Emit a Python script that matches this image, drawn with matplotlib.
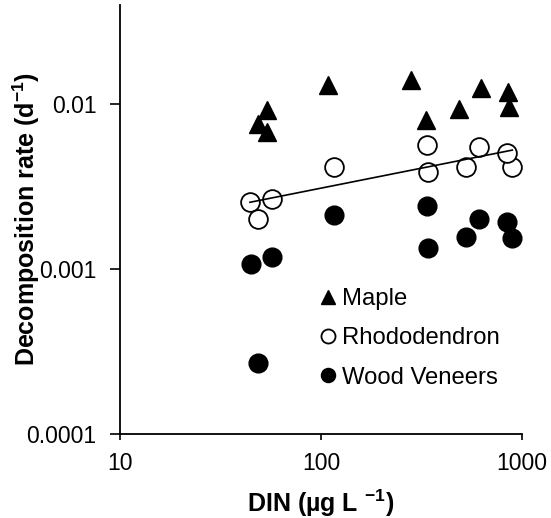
import matplotlib
matplotlib.use("Agg")
import matplotlib.pyplot as plt
import numpy as np

plt.rcParams['font.family'] = ['Liberation Sans', 'DejaVu Sans']
plt.rcParams['mathtext.fontset'] = 'custom'
plt.rcParams['mathtext.rm'] = 'Liberation Sans'
plt.rcParams['mathtext.bf'] = 'Liberation Sans:bold'
plt.rcParams['mathtext.default'] = 'bf'

# DIN (ug/L) and decomposition rates (1/d)
maple_din = [48.8, 53.7, 53.7, 108.7, 279, 333, 487, 623, 855, 865]
maple_k = [0.00764, 0.00929, 0.00679, 0.0130, 0.0141, 0.00808, 0.00933, 0.0126, 0.0118, 0.00963]

rhodo_din = [44.3, 56.8, 48.8, 116, 342, 525, 895, 336, 613, 840]
rhodo_k = [0.00256, 0.00268, 0.00201, 0.00417, 0.00389, 0.00417, 0.00417, 0.00564, 0.00547, 0.00507]

wood_din = [44.7, 56.8, 116, 336, 342, 611, 525, 840, 895, 48.8]
wood_k = [0.00108, 0.00118, 0.00212, 0.00241, 0.00134, 0.00201, 0.00156, 0.00193, 0.00154, 0.00027]

fig = plt.figure(figsize=(5.51, 5.18), dpi=100)
ax = fig.add_axes([120/551, 1-434/518, 402/551, 429/518])

ax.plot(maple_din, maple_k, ls='none', marker='^', ms=13.5, color='black', label='Maple')
ax.plot(rhodo_din, rhodo_k, ls='none', marker='o', ms=13.5, mfc='white', mec='black', mew=1.3, label='Rhododendron')
ax.plot(wood_din, wood_k, ls='none', marker='o', ms=13.5, color='black', label='Wood Veneers')

# power-law trend for rhododendron
b, a = np.polyfit(np.log10(rhodo_din), np.log10(rhodo_k), 1)
xs = np.array([min(rhodo_din), max(rhodo_din)])
ax.plot(xs, 10**a * xs**b, color='black', lw=1.2)

ax.set_xscale('log')
ax.set_yscale('log')
ax.set_xlim(10, 1000)
ax.set_ylim(0.0001, 0.04)
ax.set_xticks([10, 100, 1000])
ax.set_xticklabels(['10', '100', '1000'])
ax.set_yticks([0.0001, 0.001, 0.01])
ax.set_yticklabels(['0.0001', '0.001', '0.01'])
ax.minorticks_off()
ax.tick_params(axis='x', direction='out', length=4, width=1.2, labelsize=16.5, pad=9)
ax.tick_params(axis='y', direction='out', length=7, width=1.2, labelsize=16.5, pad=10)

for s in ['top', 'right']:
    ax.spines[s].set_visible(False)
for s in ['left', 'bottom']:
    ax.spines[s].set_linewidth(1.3)

ax.set_xlabel(r'DIN (µg L $^{-1}$)', fontsize=18, fontweight='bold')
ax.set_ylabel(r'Decomposition rate (d$^{-1}$)', fontsize=18, fontweight='bold')
ax.xaxis.set_label_coords(0.5, -0.126)
ax.yaxis.set_label_coords(-0.194, 0.5)

ax.legend(loc='upper left', bbox_to_anchor=(0.5, 0.34), frameon=False, fontsize=17.2,
          markerscale=0.75, handlelength=0.6, handletextpad=0.3, labelspacing=0.72,
          borderpad=0, borderaxespad=0)

fig.savefig('out.png', dpi=100)
